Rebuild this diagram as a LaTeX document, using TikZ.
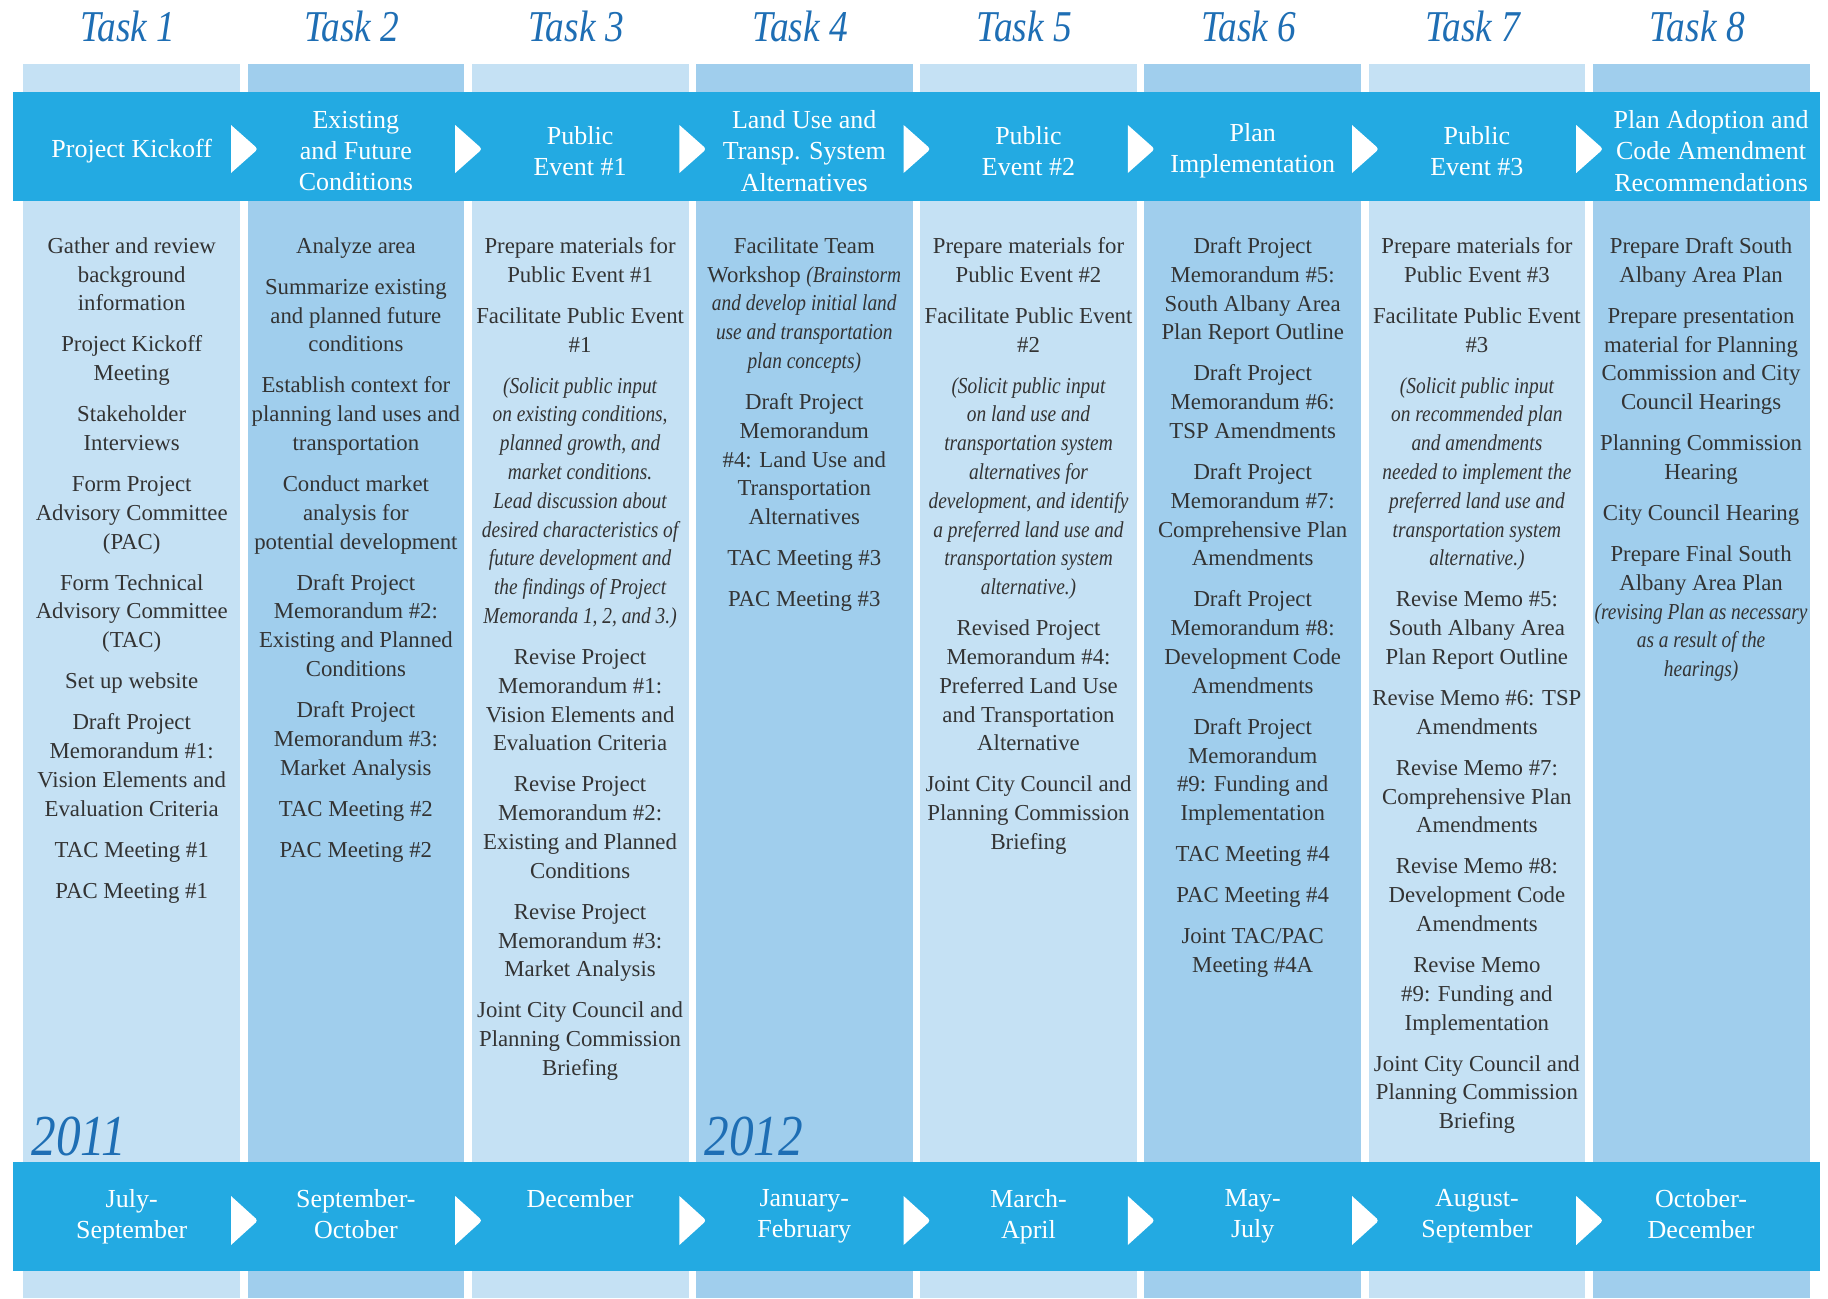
\documentclass[tikz,border=0pt]{standalone}
\usepackage{fontspec}
\setmainfont{Liberation Serif}
\newfontfamily\narrowit[FakeStretch=0.85]{Liberation Serif}

\definecolor{bandblue}{HTML}{23AAE2}
\definecolor{collight}{HTML}{C5E1F4}
\definecolor{coldark}{HTML}{A0CEED}
\definecolor{taskblue}{HTML}{1E6EB4}
\definecolor{bodygray}{HTML}{333333}

% italic remarks inside the task lists
\newcommand{\remark}[1]{{\narrowit\itshape #1}}

\tikzset{
  tasklabel/.style={font=\narrowit\itshape\fontsize{22}{25}\selectfont, text=taskblue, inner sep=0pt},
  heading/.style={font=\fontsize{13}{15.7}\selectfont, text=white, align=center, inner sep=0pt},
  period/.style={font=\fontsize{13}{15.7}\selectfont, text=white, align=center, inner sep=0pt, anchor=north},
  tasklist/.style={font=\fontsize{11.4}{14.4}\selectfont, text=bodygray, align=center, inner sep=0pt, anchor=north},
  yearlabel/.style={font=\narrowit\itshape\fontsize{29}{32}\selectfont, text=taskblue, inner sep=0pt, anchor=west},
}

\begin{document}
\begin{tikzpicture}[x=0.5pt, y=-0.5pt]
  \useasboundingbox (0,0) rectangle (1828,1298);

  % column strips
  \foreach \i/\shade in {1/collight,2/coldark,3/collight,4/coldark,5/collight,6/coldark,7/collight,8/coldark} {
    \fill[\shade] ({23.3+224.2*(\i-1)},64) rectangle ++(216.8,1234);
  }

  % header and footer bands
  \fill[bandblue] (12.8,92) rectangle (1820,200.5);
  \fill[bandblue] (12.8,1162) rectangle (1820,1271);

  % chevrons between the phases
  \foreach \i in {2,...,8} {
    \pgfmathsetmacro\chevx{23.3+224.2*(\i-1)-16.5}
    \fill[white] (\chevx,125) [rounded corners=1.5pt] -- (\chevx+27,149) [sharp corners] -- (\chevx,173) -- cycle;
    \fill[white] (\chevx,1196) [rounded corners=1.5pt] -- (\chevx+27,1220.5) [sharp corners] -- (\chevx,1245) -- cycle;
  }

  % task numbers
  \foreach \i in {1,...,8}
    \node[tasklabel] (task\i) at ({131.7+224.2*(\i-1)-4},26) {Task \i};

  % phase titles
  \foreach \i/\dx/\txt in {1/0/{Project Kickoff},
      2/0/{Existing\\and Future\\Conditions},
      3/0/{Public\\Event \#1},
      4/0/{Land Use and\\Transp. System\\Alternatives},
      5/0/{Public\\Event \#2},
      6/0/{Plan\\Implementation},
      7/0/{Public\\Event \#3},
      8/10/{Plan Adoption and\\Code Amendment\\Recommendations}}
    \node[heading] (head\i) at ({131.7+224.2*(\i-1)+\dx},151) {\txt};

  % months
  \foreach \i/\txt in {1/{July-\\September}, 2/{September-\\October}, 3/{December},
      4/{January-\\February}, 5/{March-\\April}, 6/{May-\\July},
      7/{August-\\September}, 8/{October-\\December}}
    \node[period] (month\i) at ({131.7+224.2*(\i-1)},1189) {\txt};

  % years
  \node[yearlabel] (year1) at (31,1136) {2011};
  \node[yearlabel] (year2) at (704,1136) {2012};

  % task lists
  \node[tasklist] (list1) at (131.7,237) {Gather and review\\background\\information\\[6.1pt]
    Project Kickoff\\Meeting\\[6.1pt]
    Stakeholder\\Interviews\\[6.1pt]
    Form Project\\Advisory Committee\\(PAC)\\[6.1pt]
    Form Technical\\Advisory Committee\\(TAC)\\[6.1pt]
    Set up website\\[6.1pt]
    Draft Project\\Memorandum \#1:\\Vision Elements and\\Evaluation Criteria\\[6.1pt]
    TAC Meeting \#1\\[6.1pt]
    PAC Meeting \#1};

  \node[tasklist] (list2) at (355.9,237) {Analyze area\\[6.1pt]
    Summarize existing\\and planned future\\conditions\\[6.1pt]
    Establish context for\\planning land uses and\\transportation\\[6.1pt]
    Conduct market\\analysis for\\potential development\\[6.1pt]
    Draft Project\\Memorandum \#2:\\Existing and Planned\\Conditions\\[6.1pt]
    Draft Project\\Memorandum \#3:\\Market Analysis\\[6.1pt]
    TAC Meeting \#2\\[6.1pt]
    PAC Meeting \#2};

  \node[tasklist] (list3) at (580.1,237) {Prepare materials for\\Public Event \#1\\[6.1pt]
    Facilitate Public Event\\\#1\\[6.1pt]
    \remark{(Solicit public input}\\\remark{on existing conditions,}\\\remark{planned growth, and}\\
    \remark{market conditions.}\\\remark{Lead discussion about}\\\remark{desired characteristics of}\\
    \remark{future development and}\\\remark{the findings of Project}\\\remark{Memoranda 1, 2, and 3.)}\\[6.1pt]
    Revise Project\\Memorandum \#1:\\Vision Elements and\\Evaluation Criteria\\[6.1pt]
    Revise Project\\Memorandum \#2:\\Existing and Planned\\Conditions\\[6.1pt]
    Revise Project\\Memorandum \#3:\\Market Analysis\\[6.1pt]
    Joint City Council and\\Planning Commission\\Briefing};

  \node[tasklist] (list4) at (804.3,237) {Facilitate Team\\Workshop \remark{(Brainstorm}\\
    \remark{and develop initial land}\\\remark{use and transportation}\\\remark{plan concepts)}\\[6.1pt]
    Draft Project\\Memorandum\\\#4: Land Use and\\Transportation\\Alternatives\\[6.1pt]
    TAC Meeting \#3\\[6.1pt]
    PAC Meeting \#3};

  \node[tasklist] (list5) at (1028.5,237) {Prepare materials for\\Public Event \#2\\[6.1pt]
    Facilitate Public Event\\\#2\\[6.1pt]
    \remark{(Solicit public input}\\\remark{on land use and}\\\remark{transportation system}\\
    \remark{alternatives for}\\\remark{development, and identify}\\\remark{a preferred land use and}\\
    \remark{transportation system}\\\remark{alternative.)}\\[6.1pt]
    Revised Project\\Memorandum \#4:\\Preferred Land Use\\and Transportation\\Alternative\\[6.1pt]
    Joint City Council and\\Planning Commission\\Briefing};

  \node[tasklist] (list6) at (1252.7,237) {Draft Project\\Memorandum \#5:\\South Albany Area\\Plan Report Outline\\[6.1pt]
    Draft Project\\Memorandum \#6:\\TSP Amendments\\[6.1pt]
    Draft Project\\Memorandum \#7:\\Comprehensive Plan\\Amendments\\[6.1pt]
    Draft Project\\Memorandum \#8:\\Development Code\\Amendments\\[6.1pt]
    Draft Project\\Memorandum\\\#9: Funding and\\Implementation\\[6.1pt]
    TAC Meeting \#4\\[6.1pt]
    PAC Meeting \#4\\[6.1pt]
    Joint TAC/PAC\\Meeting \#4A};

  \node[tasklist] (list7) at (1476.9,237) {Prepare materials for\\Public Event \#3\\[6.1pt]
    Facilitate Public Event\\\#3\\[6.1pt]
    \remark{(Solicit public input}\\\remark{on recommended plan}\\\remark{and amendments}\\
    \remark{needed to implement the}\\\remark{preferred land use and}\\\remark{transportation system}\\
    \remark{alternative.)}\\[6.1pt]
    Revise Memo \#5:\\South Albany Area\\Plan Report Outline\\[6.1pt]
    Revise Memo \#6: TSP\\Amendments\\[6.1pt]
    Revise Memo \#7:\\Comprehensive Plan\\Amendments\\[6.1pt]
    Revise Memo \#8:\\Development Code\\Amendments\\[6.1pt]
    Revise Memo\\\#9: Funding and\\Implementation\\[6.1pt]
    Joint City Council and\\Planning Commission\\Briefing};

  \node[tasklist] (list8) at (1701.1,237) {Prepare Draft South\\Albany Area Plan\\[6.1pt]
    Prepare presentation\\material for Planning\\Commission and City\\Council Hearings\\[6.1pt]
    Planning Commission\\Hearing\\[6.1pt]
    City Council Hearing\\[6.1pt]
    Prepare Final South\\Albany Area Plan\\\remark{(revising Plan as necessary}\\
    \remark{as a result of the}\\\remark{hearings)}};
\end{tikzpicture}
\end{document}
